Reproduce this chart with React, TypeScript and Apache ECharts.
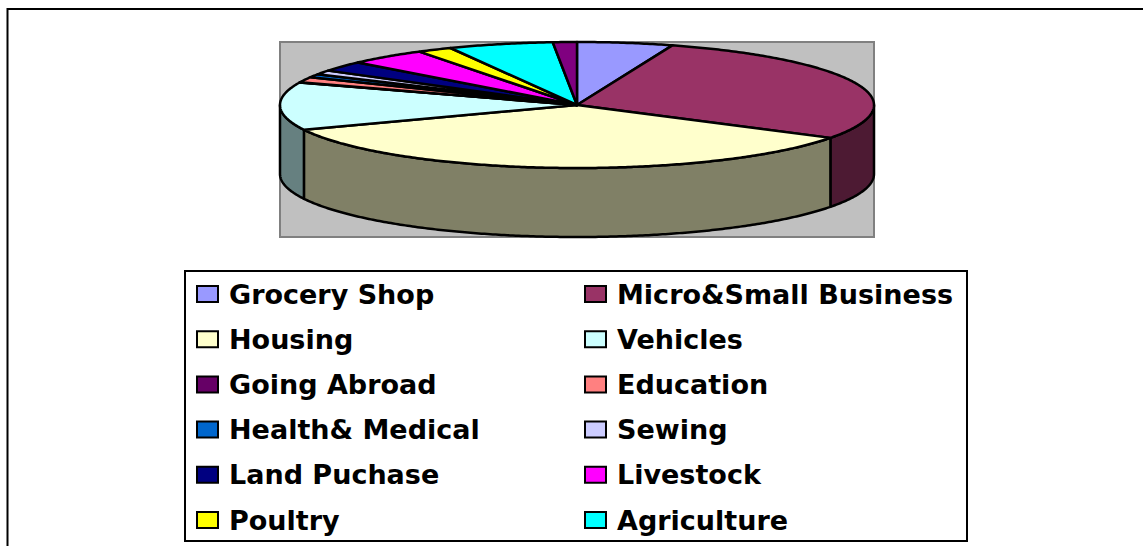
import React, { useEffect, useRef } from "react";
import * as echarts from "echarts";

const categories = [
  "Grocery Shop", "Micro&Small Business", "Housing", "Vehicles", "Going Abroad", "Education",
  "Health& Medical", "Sewing", "Land Puchase", "Livestock", "Poultry", "Agriculture", "Other",
];
const shares = [5.2, 28.5, 34.8, 12.2, 0.1, 1.4, 0.8, 1.1, 2.6, 4.3, 1.9, 5.7, 1.3];
const topColors = [
  "#9999FF", "#993366", "#FFFFCC", "#CCFFFF", "#660066", "#FF8080",
  "#0066CC", "#CCCCFF", "#000080", "#FF00FF", "#FFFF00", "#00FFFF", "#800080",
];
const sideColors = [
  "#4D4D80", "#4D1A33", "#808066", "#668080", "#330033", "#804040",
  "#003366", "#666680", "#000040", "#800080", "#808000", "#008080", "#400040",
];
const legendLeftNames = categories.filter((_, i) => i < 12 && i % 2 === 0);
const legendRightNames = categories.filter((_, i) => i < 12 && i % 2 === 1);

const DEPTH = 1.095;
const total = shares.reduce((a, b) => a + b, 0);

function pointAt(a: number, drop = 0): [number, number] {
  return [Math.sin(a), Math.cos(a) - drop];
}

function arcPoints(a0: number, a1: number, drop: number): [number, number][] {
  const n = Math.max(2, Math.ceil(Math.abs(a1 - a0) / 0.01));
  const out: [number, number][] = [];
  for (let i = 0; i <= n; i++) out.push(pointAt(a0 + ((a1 - a0) * i) / n, drop));
  return out;
}

function legend(names: string[], left: number) {
  return {
    orient: "vertical",
    left,
    top: 280.5,
    itemWidth: 21,
    itemHeight: 16,
    itemGap: 18.2,
    selectedMode: false,
    padding: 0,
    textStyle: {
      fontFamily: "DejaVu Sans",
      fontWeight: "bold",
      fontSize: 27,
      color: "#000",
      padding: [0, 0, 0, 6],
    },
    data: names.map((name) => ({
      name,
      icon: "rect",
      itemStyle: {
        color: topColors[categories.indexOf(name)],
        borderColor: "#000",
        borderWidth: 2,
      },
    })),
  };
}

export default function App() {
  const ref = useRef<HTMLDivElement>(null);
  useEffect(() => {
    const chart = echarts.init(ref.current!, null, { renderer: "svg" });
    let acc = 0;
    const spans = shares.map((v) => {
      const s = [acc, acc + v];
      acc += v;
      return s.map((x) => (x / total) * Math.PI * 2);
    });
    const stroke = { stroke: "#000", lineWidth: 2.5, lineJoin: "round" };
    const series: any[] = [];
    // Sides first, so that every top face lies over them
    categories.forEach((name, i) => {
      const [a0, a1] = spans[i];
      series.push({
        type: "custom",
        name: name + " side",
        silent: true,
        clip: false,
        z: 2,
        data: [[a0, a1]],
        renderItem: (_p: any, api: any) => {
          const lo = Math.max(a0, Math.PI / 2);
          const hi = Math.min(a1, (Math.PI * 3) / 2);
          if (hi <= lo) return { type: "group", children: [] };
          const pts = [...arcPoints(lo, hi, 0), ...arcPoints(hi, lo, DEPTH)].map((p) => api.coord(p));
          return {
            type: "polygon",
            shape: { points: pts },
            style: { fill: sideColors[i], ...stroke },
          };
        },
      });
    });
    categories.forEach((name, i) => {
      const [a0, a1] = spans[i];
      series.push({
        type: "custom",
        name,
        silent: true,
        clip: false,
        z: 3,
        itemStyle: { color: topColors[i] },
        data: [[a0, a1]],
        renderItem: (_p: any, api: any) => {
          const pts = [[0, 0] as [number, number], ...arcPoints(a0, a1, 0)].map((p) => api.coord(p));
          return {
            type: "polygon",
            shape: { points: pts },
            style: { fill: topColors[i], ...stroke },
          };
        },
      });
    });
    chart.setOption({
      animation: false,
      backgroundColor: "#fff",
      grid: {
        show: true,
        left: 280,
        top: 42,
        width: 594,
        height: 195,
        backgroundColor: "#C0C0C0",
        borderColor: "#808080",
        borderWidth: 2,
      },
      xAxis: { type: "value", min: -1, max: 1, show: false },
      yAxis: { type: "value", min: -2.095, max: 1, show: false },
      legend: [legend(legendLeftNames, 196), legend(legendRightNames, 584)],
      graphic: [
        {
          type: "line",
          silent: true,
          z: -1,
          shape: { x1: 7, y1: 9, x2: 1143, y2: 9 },
          style: { stroke: "#000", lineWidth: 2 },
        },
        {
          type: "line",
          silent: true,
          z: -1,
          shape: { x1: 7.5, y1: 8, x2: 7.5, y2: 546 },
          style: { stroke: "#000", lineWidth: 2 },
        },
        {
          type: "rect",
          silent: true,
          z: -1,
          shape: { x: 185, y: 271, width: 782, height: 270 },
          style: { fill: "#fff", stroke: "#000", lineWidth: 2 },
        },
      ],
      series,
    });
    return () => chart.dispose();
  }, []);
  return (
    <div
      ref={ref}
      style={{ position: "fixed", left: 0, top: 0, width: 1143, height: 546 }}
    />
  );
}
